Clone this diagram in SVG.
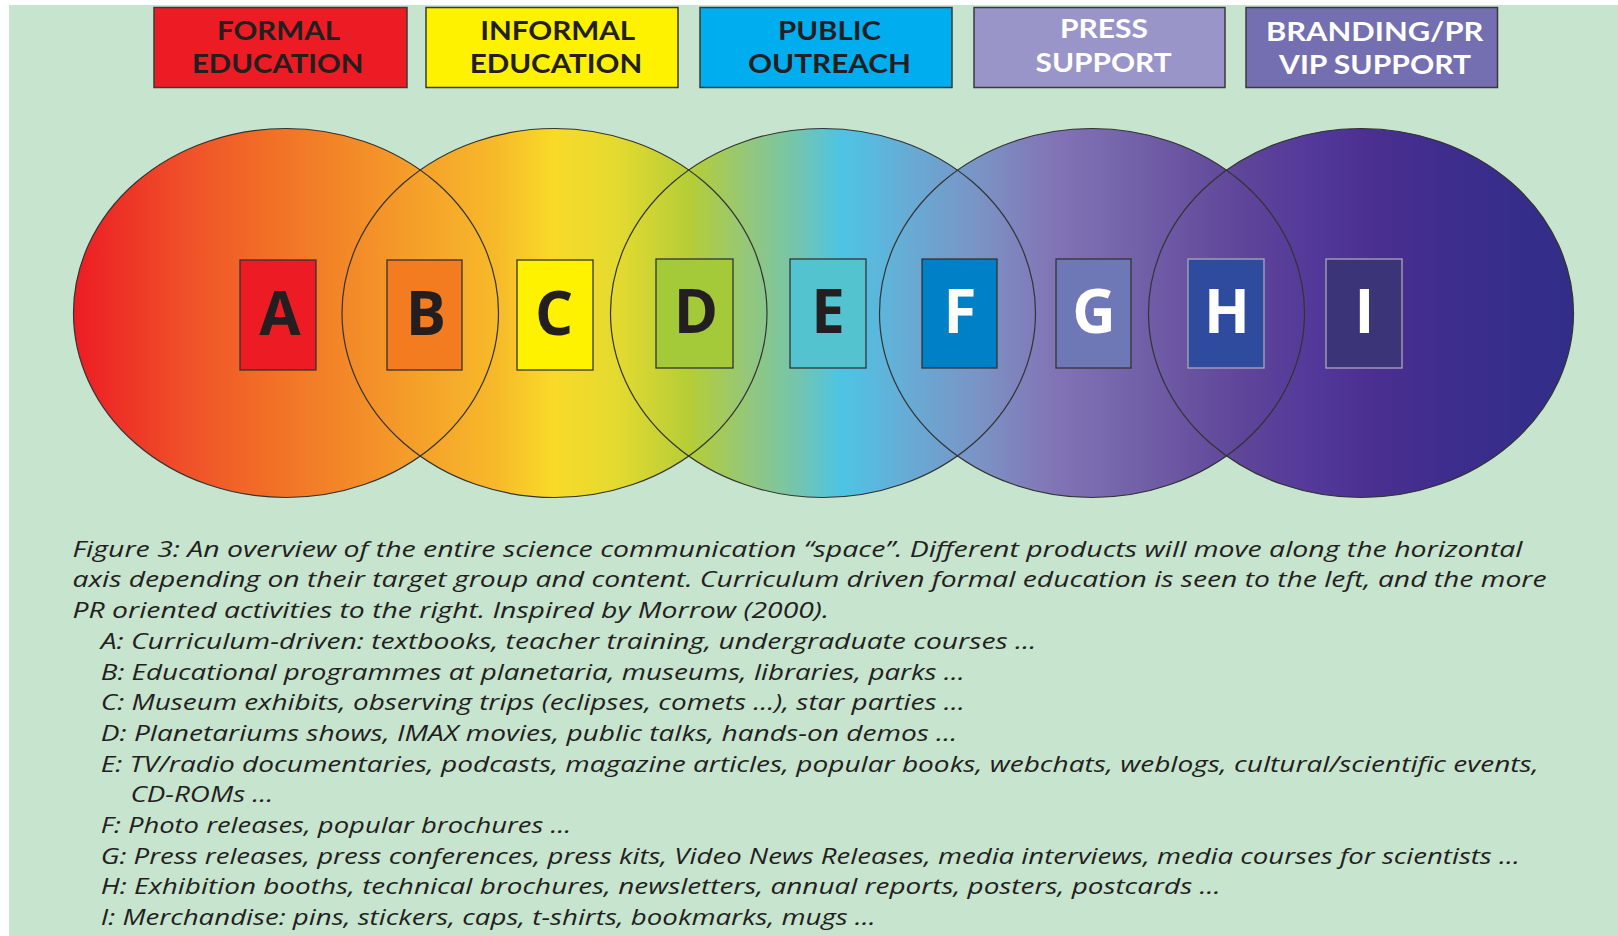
<svg xmlns="http://www.w3.org/2000/svg" width="1618" height="936" viewBox="0 0 1618 936">
<defs>
<linearGradient id="spectrum" gradientUnits="userSpaceOnUse" x1="74" y1="0" x2="1574" y2="0">
<stop offset="0" stop-color="#ED1C24"/>
<stop offset="0.071" stop-color="#EF4E29"/>
<stop offset="0.12" stop-color="#F16A27"/>
<stop offset="0.185" stop-color="#F38A28"/>
<stop offset="0.233" stop-color="#F5A22A"/>
<stop offset="0.281" stop-color="#F7B92A"/>
<stop offset="0.32" stop-color="#F9DA28"/>
<stop offset="0.362" stop-color="#E4DA30"/>
<stop offset="0.411" stop-color="#B5CD37"/>
<stop offset="0.449" stop-color="#94C77A"/>
<stop offset="0.484" stop-color="#72C5B0"/>
<stop offset="0.512" stop-color="#4DC4E4"/>
<stop offset="0.553" stop-color="#66ADD6"/>
<stop offset="0.606" stop-color="#7B92C4"/>
<stop offset="0.651" stop-color="#8275B6"/>
<stop offset="0.71" stop-color="#7260A8"/>
<stop offset="0.779" stop-color="#5F4599"/>
<stop offset="0.832" stop-color="#52379A"/>
<stop offset="0.867" stop-color="#4A2F90"/>
<stop offset="0.919" stop-color="#3D2D8D"/>
<stop offset="1" stop-color="#302E88"/>
</linearGradient>
<style>
.cat{stroke:#3a3a3a;stroke-width:1.5}
.cattxt{font-family:Lato,"Liberation Sans",sans-serif;font-weight:700;font-size:27.4px;text-anchor:middle}
.dark{fill:#231F20}
.light{fill:#FFFFFF}
.ell{fill:url(#spectrum)}
.outline{fill:none;stroke:#333333;stroke-width:1.2}
.box{stroke:#333333;stroke-width:1.3}
.boxl{stroke:#A8A8BA;stroke-width:1.3}
.let{font-family:"Open Sans","Noto Sans",sans-serif;font-weight:700;font-size:60px;text-anchor:middle}
.cap{font-family:"Open Sans","Noto Sans",sans-serif;font-style:italic;font-size:22px;fill:#231F20}
</style>
</defs>
<rect x="0" y="0" width="1618" height="936" fill="#FFFFFF"/>
<rect x="9" y="5" width="1609" height="931" fill="#C7E4CF"/>

<g id="cat-formal">
<rect class="cat" x="154" y="7.5" width="253" height="80" fill="#ED1C24"/>
<text class="cattxt dark"><tspan x="278.5" y="40" textLength="123" lengthAdjust="spacingAndGlyphs">FORMAL</tspan><tspan x="277.7" y="73" textLength="171.5" lengthAdjust="spacingAndGlyphs">EDUCATION</tspan></text>
</g>
<g id="cat-informal">
<rect class="cat" x="426" y="7.5" width="252" height="80" fill="#FFF200"/>
<text class="cattxt dark"><tspan x="557.7" y="40" textLength="155" lengthAdjust="spacingAndGlyphs">INFORMAL</tspan><tspan x="556" y="73" textLength="172.6" lengthAdjust="spacingAndGlyphs">EDUCATION</tspan></text>
</g>
<g id="cat-public">
<rect class="cat" x="700" y="7.5" width="252" height="80" fill="#00AEEF"/>
<text class="cattxt dark"><tspan x="829.5" y="40" textLength="103" lengthAdjust="spacingAndGlyphs">PUBLIC</tspan><tspan x="829.5" y="73" textLength="163" lengthAdjust="spacingAndGlyphs">OUTREACH</tspan></text>
</g>
<g id="cat-press">
<rect class="cat" x="974" y="7.5" width="251" height="80" fill="#9A95C9"/>
<text class="cattxt light"><tspan x="1104" y="38" textLength="88" lengthAdjust="spacingAndGlyphs">PRESS</tspan><tspan x="1103.6" y="71.5" textLength="136" lengthAdjust="spacingAndGlyphs">SUPPORT</tspan></text>
</g>
<g id="cat-branding">
<rect class="cat" x="1246" y="7.5" width="251.5" height="80" fill="#746FB1"/>
<text class="cattxt light"><tspan x="1374.7" y="40.5" textLength="217.5" lengthAdjust="spacingAndGlyphs">BRANDING/PR</tspan><tspan x="1375" y="73.5" textLength="192" lengthAdjust="spacingAndGlyphs">VIP SUPPORT</tspan></text>
</g>

<g id="zone-formal"><ellipse class="ell" cx="286" cy="313" rx="212.5" ry="184.5"/></g>
<g id="zone-informal"><ellipse class="ell" cx="554.5" cy="313" rx="212.5" ry="184.5"/></g>
<g id="zone-public"><ellipse class="ell" cx="823" cy="313" rx="212.5" ry="184.5"/></g>
<g id="zone-press"><ellipse class="ell" cx="1092" cy="313" rx="212.5" ry="184.5"/></g>
<g id="zone-branding"><ellipse class="ell" cx="1361" cy="313" rx="212.5" ry="184.5"/></g>
<g id="zone-outlines">
<ellipse class="outline" cx="286" cy="313" rx="212.5" ry="184.5"/>
<ellipse class="outline" cx="554.5" cy="313" rx="212.5" ry="184.5"/>
<ellipse class="outline" cx="823" cy="313" rx="212.5" ry="184.5"/>
<ellipse class="outline" cx="1092" cy="313" rx="212.5" ry="184.5"/>
<ellipse class="outline" cx="1361" cy="313" rx="212.5" ry="184.5"/>
</g>

<g id="node-A"><rect class="box" x="240" y="260" width="76" height="110" fill="#ED1C24"/><text class="let dark" x="280" y="335">A</text></g>
<g id="node-B"><rect class="box" x="387" y="260" width="75" height="110" fill="#F47C20"/><text class="let dark" x="426" y="335">B</text></g>
<g id="node-C"><rect class="box" x="517" y="260" width="76" height="110" fill="#FFF200"/><text class="let dark" x="554" y="335">C</text></g>
<g id="node-D"><rect class="box" x="656" y="259" width="77" height="109" fill="#A4C939"/><text class="let dark" x="696" y="333">D</text></g>
<g id="node-E"><rect class="box" x="790" y="259" width="76" height="109" fill="#53C3D0"/><text class="let dark" x="828" y="333">E</text></g>
<g id="node-F"><rect class="box" x="922" y="259" width="75" height="109" fill="#0080C6"/><text class="let light" x="960" y="333">F</text></g>
<g id="node-G"><rect class="box" x="1056" y="259" width="75" height="109" fill="#6F78B6"/><text class="let light" x="1094" y="333">G</text></g>
<g id="node-H"><rect class="boxl" x="1188" y="259" width="76" height="109" fill="#2E4B9E"/><text class="let light" x="1227" y="333">H</text></g>
<g id="node-I"><rect class="boxl" x="1326" y="259" width="76" height="109" fill="#3C3479"/><text class="let light" x="1364.5" y="333">I</text></g>

<g id="connectors"></g>

<g id="caption">
<text class="cap" x="72.5" y="556.7" textLength="1450" lengthAdjust="spacingAndGlyphs">Figure 3: An overview of the entire science communication “space”. Different products will move along the horizontal</text>
<text class="cap" x="72.5" y="587.4" textLength="1474" lengthAdjust="spacingAndGlyphs">axis depending on their target group and content. Curriculum driven formal education is seen to the left, and the more</text>
<text class="cap" x="72.5" y="618.1" textLength="756.5" lengthAdjust="spacingAndGlyphs">PR oriented activities to the right. Inspired by Morrow (2000).</text>
<text class="cap" x="100.8" y="648.8" textLength="935.5" lengthAdjust="spacingAndGlyphs">A: Curriculum-driven: textbooks, teacher training, undergraduate courses …</text>
<text class="cap" x="100.8" y="679.5" textLength="864" lengthAdjust="spacingAndGlyphs">B: Educational programmes at planetaria, museums, libraries, parks …</text>
<text class="cap" x="100.8" y="710.2" textLength="864" lengthAdjust="spacingAndGlyphs">C: Museum exhibits, observing trips (eclipses, comets …), star parties …</text>
<text class="cap" x="100.8" y="740.9" textLength="856.6" lengthAdjust="spacingAndGlyphs">D: Planetariums shows, IMAX movies, public talks, hands-on demos …</text>
<text class="cap" x="100.8" y="771.6" textLength="1437.8" lengthAdjust="spacingAndGlyphs">E: TV/radio documentaries, podcasts, magazine articles, popular books, webchats, weblogs, cultural/scientific events,</text>
<text class="cap" x="130.4" y="802.3" textLength="143" lengthAdjust="spacingAndGlyphs">CD-ROMs …</text>
<text class="cap" x="100.8" y="833" textLength="470.4" lengthAdjust="spacingAndGlyphs">F: Photo releases, popular brochures …</text>
<text class="cap" x="100.8" y="863.7" textLength="1419" lengthAdjust="spacingAndGlyphs">G: Press releases, press conferences, press kits, Video News Releases, media interviews, media courses for scientists …</text>
<text class="cap" x="100.8" y="894.4" textLength="1119.7" lengthAdjust="spacingAndGlyphs">H: Exhibition booths, technical brochures, newsletters, annual reports, posters, postcards …</text>
<text class="cap" x="100.8" y="925.1" textLength="775" lengthAdjust="spacingAndGlyphs">I: Merchandise: pins, stickers, caps, t-shirts, bookmarks, mugs …</text>
</g>
</svg>
